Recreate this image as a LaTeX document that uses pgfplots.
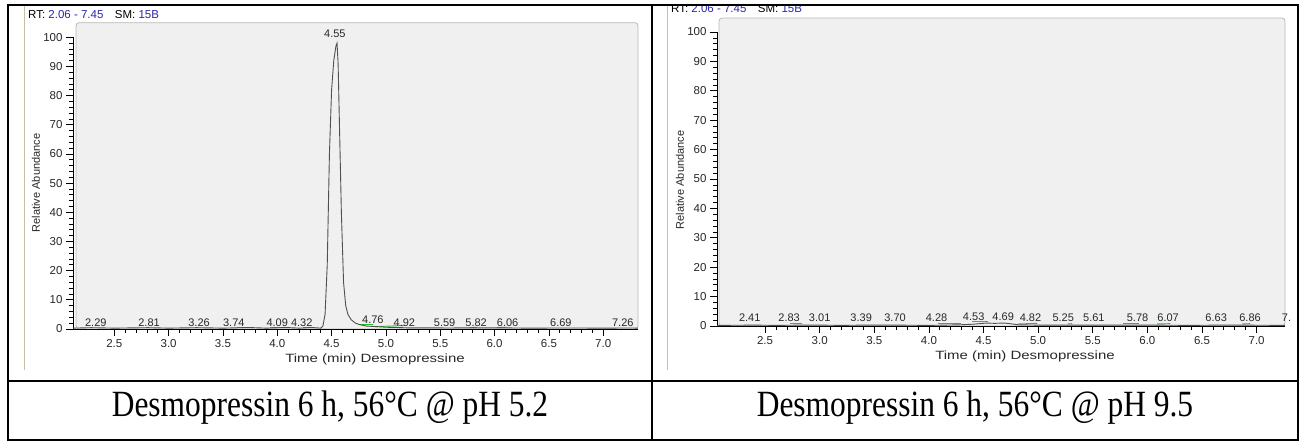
\documentclass[border=0pt]{standalone}
\usepackage{fontspec}
\setmainfont{Liberation Serif}
\newfontfamily\arial{Liberation Sans}
\usepackage{pgfplots}
\pgfplotsset{compat=1.18}
\definecolor{panel}{RGB}{240,240,240}
\definecolor{panelborder}{RGB}{185,185,185}
\definecolor{beige}{RGB}{200,190,165}
\definecolor{rtblue}{RGB}{40,40,170}
\definecolor{trace}{RGB}{80,80,80}
\definecolor{intgreen}{RGB}{40,190,40}
\definecolor{ticktext}{RGB}{40,40,40}

\pgfplotstableread{
t v
2.12 0.3
2.29 0.45
2.50 0.3
2.81 0.45
3.00 0.3
3.26 0.45
3.50 0.3
3.74 0.5
3.90 0.3
4.09 0.5
4.20 0.3
4.32 0.5
4.40 0.3
4.42 1.0
4.44 5.0
4.46 22
4.48 60
4.50 82
4.52 92
4.54 97
4.55 98
4.56 91
4.57 74
4.59 40
4.61 16
4.63 8
4.65 5
4.68 3.2
4.72 2.0
4.76 1.5
4.82 1.0
4.92 0.8
5.00 0.6
5.20 0.4
5.59 0.35
5.82 0.4
6.06 0.4
6.30 0.3
6.69 0.35
7.00 0.3
7.26 0.35
7.32 0.3
}\leftdata

\pgfplotstableread{
t v
2.06 0.2
2.41 0.3
2.60 0.2
2.83 0.3
3.01 0.3
3.20 0.2
3.39 0.3
3.70 0.3
4.00 0.2
4.28 0.4
4.40 0.6
4.53 1.0
4.60 0.9
4.69 1.0
4.76 0.7
4.82 0.4
5.00 0.3
5.25 0.3
5.61 0.3
5.78 0.3
6.07 0.3
6.40 0.2
6.63 0.3
6.86 0.3
7.26 0.2
}\rightdata

\newcommand{\tickfont}{\arial\fontsize{11.5}{12}\selectfont}
\newcommand{\peakfont}{\arial\fontsize{11}{12}\selectfont}

\pgfplotsset{chrom/.style={
  scale only axis,
  anchor=south west,
  ymin=0, ymax=100,
  axis x line*=bottom, axis y line*=left,
  axis line style={-, black, line width=0.7pt},
  tick align=outside,
  major tick length=7pt, minor tick length=4pt,
  tick style={black, line width=0.7pt},
  ytick={0,10,...,100},
  xtick={2.5,3.0,...,7.0},
  minor x tick num=4, minor y tick num=4,
  ticklabel style={font=\tickfont, text=ticktext},
  /pgf/number format/assume math mode=true,
  xticklabel style={/pgf/number format/.cd, fixed, fixed zerofill, precision=1},
  yticklabel style={/pgf/number format/.cd, fixed, precision=0},
  clip=false,
}}

\begin{document}
\begin{tikzpicture}[x=1pt,y=1pt]
% white page
\fill[white] (0,0) rectangle (1301,443);
% screenshot left borders
\draw[beige, line width=1pt] (24,438) -- (24,73);
\draw[beige, line width=1pt] (667,438) -- (667,73);
% gray panels
\draw[panelborder, fill=panel, line width=0.8pt, rounded corners=3pt] (76,114) rectangle (638,420.3);
\draw[panelborder, fill=panel, line width=0.8pt, rounded corners=3pt] (719,117) rectangle (1285,425);
% RT text
\node[anchor=base west, inner sep=0pt, font=\arial\fontsize{11.5}{12}\selectfont] at (28,424) {RT: \textcolor{rtblue}{2.06 - 7.45}\quad SM: \textcolor{rtblue}{15B}};
\node[anchor=base west, inner sep=0pt, font=\arial\fontsize{11.5}{12}\selectfont] at (671,430) {RT: \textcolor{rtblue}{2.06 - 7.45}\quad SM: \textcolor{rtblue}{15B}};

% left chart
\begin{axis}[chrom, at={(73pt,114pt)}, width=565pt, height=291.7pt, xmin=2.12, xmax=7.32]
\addplot[intgreen, line width=0.9pt] coordinates {(3.63,0.45) (3.75,0.45)};
\addplot[intgreen, line width=0.9pt] coordinates {(3.93,0.45) (4.09,0.45)};
\addplot[intgreen, line width=0.9pt] coordinates {(4.24,0.45) (4.32,0.45)};
\addplot[intgreen, line width=0.9pt] coordinates {(4.74,1.7) (4.88,1.7)};
\addplot[intgreen, line width=0.9pt] coordinates {(4.90,0.8) (5.17,1.2)};
\addplot[intgreen, line width=0.9pt] coordinates {(5.77,0.5) (5.84,0.6)};
\addplot[intgreen, line width=0.9pt] coordinates {(6.02,0.5) (6.11,0.6)};
\addplot[trace, line width=0.9pt] table[x=t, y=v] {\leftdata};
\begin{scope}[every node/.style={anchor=base, inner sep=0pt, font=\peakfont, text=ticktext}]
\node at (axis cs:4.53,99.8) {4.55};
\node at (axis cs:2.33,0.9) {2.29};
\node at (axis cs:2.82,0.9) {2.81};
\node at (axis cs:3.28,0.9) {3.26};
\node at (axis cs:3.60,0.9) {3.74};
\node at (axis cs:4.00,0.9) {4.09};
\node at (axis cs:4.225,0.9) {4.32};
\node at (axis cs:4.88,1.9) {4.76};
\node at (axis cs:5.17,0.9) {4.92};
\node at (axis cs:5.54,0.9) {5.59};
\node at (axis cs:5.83,0.9) {5.82};
\node at (axis cs:6.12,0.9) {6.06};
\node at (axis cs:6.61,0.9) {6.69};
\node at (axis cs:7.18,0.9) {7.26};
\end{scope}
\end{axis}

% right chart
\begin{axis}[chrom, at={(717pt,117pt)}, width=568pt, height=294pt, xmin=2.06, xmax=7.26]
\addplot[intgreen, line width=0.9pt] coordinates {(2.73,0.7) (2.84,0.7)};
\addplot[intgreen, line width=0.9pt] coordinates {(4.08,0.7) (4.29,0.7)};
\addplot[intgreen, line width=0.9pt] coordinates {(4.39,1.5) (4.54,1.5)};
\addplot[intgreen, line width=0.9pt] coordinates {(4.82,0.7) (4.99,0.9)};
\addplot[intgreen, line width=0.9pt] coordinates {(5.27,0.7) (5.31,0.8)};
\addplot[intgreen, line width=0.9pt] coordinates {(5.78,0.7) (5.92,0.7)};
\addplot[intgreen, line width=0.9pt] coordinates {(6.09,0.7) (6.21,0.8)};
\addplot[intgreen, line width=0.9pt] coordinates {(6.87,0.7) (6.94,0.8)};
\addplot[trace, line width=0.9pt] table[x=t, y=v] {\rightdata};
\begin{scope}[every node/.style={anchor=base, inner sep=0pt, font=\peakfont, text=ticktext}]
\node at (axis cs:2.36,1.4) {2.41};
\node at (axis cs:2.72,1.4) {2.83};
\node at (axis cs:3.00,1.4) {3.01};
\node at (axis cs:3.38,1.4) {3.39};
\node at (axis cs:3.69,1.4) {3.70};
\node at (axis cs:4.07,1.4) {4.28};
\node at (axis cs:4.41,2.0) {4.53};
\node at (axis cs:4.68,2.0) {4.69};
\node at (axis cs:4.93,1.4) {4.82};
\node at (axis cs:5.23,1.4) {5.25};
\node at (axis cs:5.51,1.4) {5.61};
\node at (axis cs:5.91,1.4) {5.78};
\node at (axis cs:6.19,1.4) {6.07};
\node at (axis cs:6.63,1.4) {6.63};
\node at (axis cs:6.94,1.4) {6.86};
\node[anchor=base west] at (axis cs:7.23,1.4) {7.};
\end{scope}
\end{axis}

% axis labels
\node[text=ticktext] at (375,84) {\scalebox{1.25}[1]{\arial\fontsize{12}{13}\selectfont Time (min) Desmopressine}};
\node[text=ticktext] at (1025,87) {\scalebox{1.25}[1]{\arial\fontsize{12}{13}\selectfont Time (min) Desmopressine}};
\node[rotate=90, font=\arial\fontsize{11}{12}\selectfont, text=ticktext] at (36,260) {Relative Abundance};
\node[rotate=90, font=\arial\fontsize{11}{12}\selectfont, text=ticktext] at (680,263) {Relative Abundance};

% table frame
\draw[black, line width=2.5pt] (8,3) rectangle (1298,438);
\draw[black, line width=2.5pt] (8,62) -- (1298,62);
\draw[black, line width=2pt] (652,3) -- (652,438);

% captions
\node[anchor=base, inner sep=0pt] at (330,26) {\scalebox{0.85}[1]{\fontsize{37}{40}\selectfont Desmopressin 6 h, 56°C @ pH 5.2}};
\node[anchor=base, inner sep=0pt] at (975,26) {\scalebox{0.85}[1]{\fontsize{37}{40}\selectfont Desmopressin 6 h, 56°C @ pH 9.5}};

\pgfresetboundingbox
\path (0,0) rectangle (1301,443);
\end{tikzpicture}
\end{document}
